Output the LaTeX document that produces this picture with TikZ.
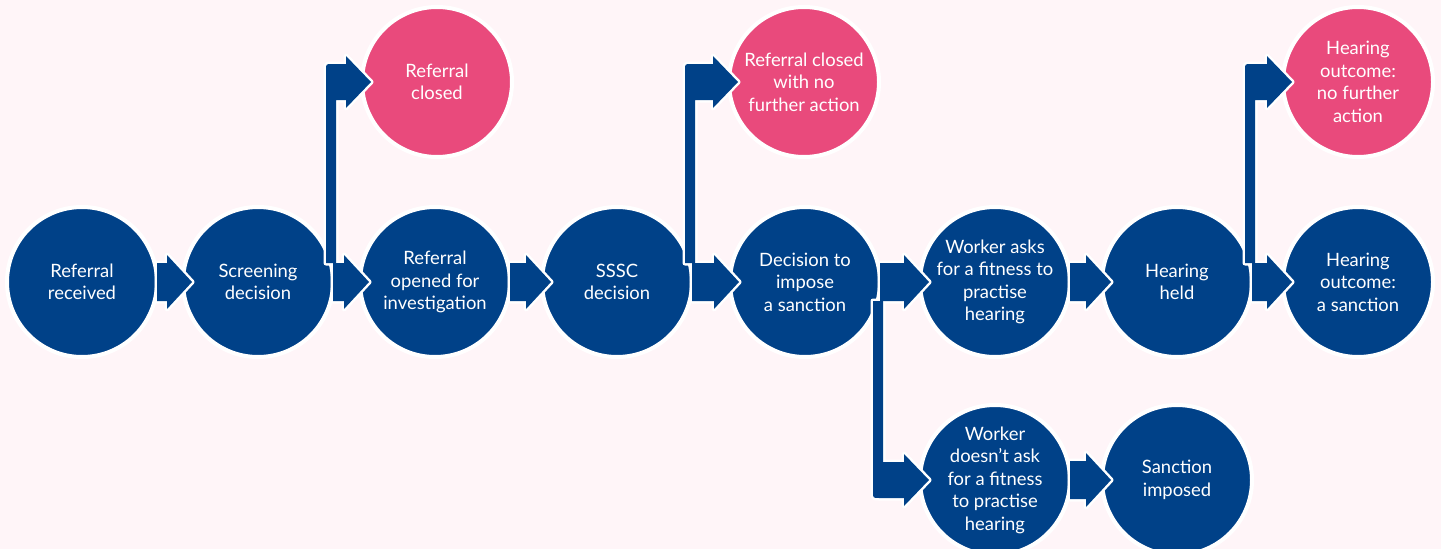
\documentclass[tikz,border=0pt]{standalone}
\usepackage{fontspec}
\setmainfont{Lato}
\usetikzlibrary{calc}

\definecolor{ssscblue}{RGB}{0,65,136}
\definecolor{ssscpink}{RGB}{233,74,124}
\definecolor{ssscback}{RGB}{255,245,248}

\begin{document}
\begin{tikzpicture}[x=1pt, y=-1pt,
    stage/.style={circle, fill=ssscblue, draw=white, line width=4pt, minimum size=150pt,
      inner sep=0pt, align=center, text=white, font=\fontsize{18.4}{22.5}\selectfont},
    closed/.style={stage, fill=ssscpink},
    arrowedge/.style={draw=white, line width=5pt, line join=round},
    arrowbody/.style={fill=ssscblue}]

  \fill[ssscback] (0,0) rectangle (1441,549);
  \useasboundingbox (0,0) rectangle (1441,549);

  \node[stage] (rec) at (82,282) {Referral\\received};
  \node[stage] (scr) at (258,282) {Screening\\decision};
  \node[stage] (opn) at (435,282) {Referral\\opened for\\investigation};
  \node[stage] (sssc) at (617,282) {SSSC\\decision};
  \node[stage] (dec) at (805,282) {Decision to\\impose\\a sanction};
  \node[stage] (ask) at (995,282) {Worker asks\\for a fitness to\\practise\\hearing};
  \node[stage] (held) at (1177,282) {Hearing\\held};
  \node[stage] (sanc) at (1358,282) {Hearing\\outcome:\\a sanction};

  \node[closed] (clo) at (437,82) {Referral\\closed};
  \node[closed] (nfa) at (804,82) {Referral closed\\with no\\further action};
  \node[closed] (hnfa) at (1358,82) {Hearing\\outcome:\\no further\\action};

  \node[stage] (noask) at (995,480) {Worker\\doesn't ask\\for a fitness\\to practise\\hearing};
  \node[stage] (imp) at (1177,480) {Sanction\\imposed};

  % white edges first, then the blue bodies on top
  \foreach \kind in {arrowedge, arrowbody} {
    \foreach \a/\b in {rec/scr, scr/opn, opn/sssc, sssc/dec, dec/ask, ask/held, held/sanc, noask/imp} {
      \path[\kind] let \p1=(\a.center), \p2=(\b.center) in
        (\x1+75,\y1+19) -- (\x2-91,\y1+19) -- (\x2-91,\y1+27) -- (\x2-66,\y1)
        -- (\x2-91,\y1-27) -- (\x2-91,\y1-19) -- (\x1+75,\y1-19) -- cycle;
    }
    \foreach \a/\b/\s in {scr/clo/1, sssc/nfa/1, held/hnfa/1, dec/noask/-1} {
      \path[\kind] let \p1=(\a.center), \p2=(\b.center) in
        (\x1+68,\y1+\s*19) -- (\x1+68,\y2+\s*12) .. controls (\x1+68,\y2+\s*18) .. (\x1+74,\y2+\s*18)
        -- (\x2-91,\y2+\s*18) -- (\x2-91,\y2+\s*26) -- (\x2-66,\y2)
        -- (\x2-91,\y2-\s*26) -- (\x2-91,\y2-\s*18) -- (\x1+78,\y2-\s*18)
        -- (\x1+78,\y1+\s*19) -- cycle;
    }
  }

\end{tikzpicture}
\end{document}
